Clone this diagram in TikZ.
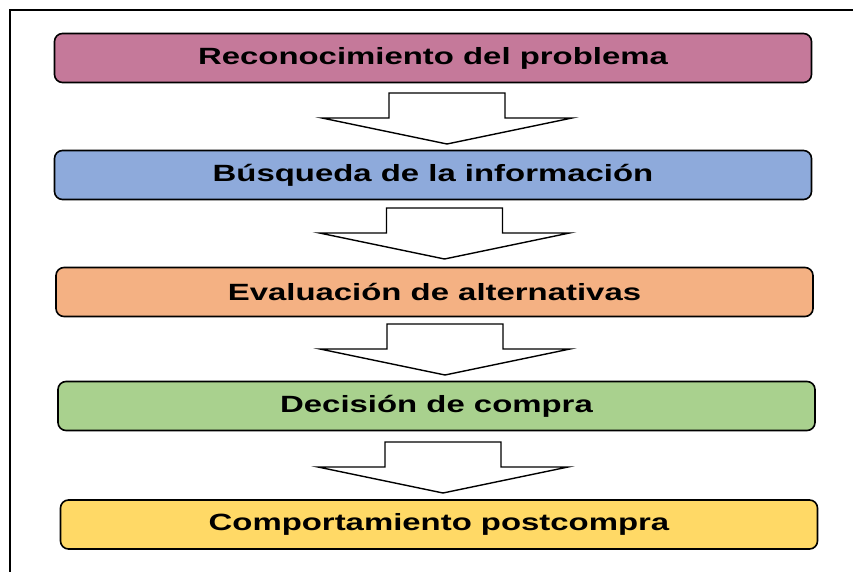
\documentclass[tikz,border=0pt]{standalone}
\usepackage{fontspec}
\newfontfamily\stagefont[FakeStretch=1.4]{Liberation Sans}
\usepackage{tikz}
\usetikzlibrary{positioning}
\usepackage{xcolor}

\definecolor{recoPink}{HTML}{C5799A}
\definecolor{busqBlue}{HTML}{8EAADB}
\definecolor{evalOrange}{HTML}{F4B183}
\definecolor{decGreen}{HTML}{A9D18E}
\definecolor{postYellow}{HTML}{FFD966}

\begin{document}
\begin{tikzpicture}[
    x=1pt, y=-1pt,
    stage/.style={draw, line width=1.6pt, rounded corners=8pt, minimum width=757pt, minimum height=49pt, inner sep=0pt, font=\stagefont\bfseries\fontsize{23.5}{28}\selectfont},
    blockarr/.style={draw, line width=1.4pt, fill=white, line join=miter},
]
\useasboundingbox (0,0) rectangle (853,572);

% frame
\draw[line width=1.3pt] (10,572) -- (10,10) -- (853,10);

% stages
\node[stage, fill=recoPink] (reco) at (433,58) {Reconocimiento del problema};
\node[stage, fill=busqBlue] (busq) at (433,175) {Búsqueda de la información};
\node[stage, fill=evalOrange] (eval) at (434.5,292) {Evaluación de alternativas};
\node[stage, fill=decGreen] (dec) at (436.5,406) {Decisión de compra};
\node[stage, fill=postYellow] (post) at (439,524.5) {Comportamiento postcompra};

% block arrows
\coordinate (a1) at (447,93);
\coordinate (a2) at (444.5,208);
\coordinate (a3) at (445,324);
\coordinate (a4) at (443,442);
\foreach \a in {a1,a2,a3,a4}
  \draw[blockarr] (\a) ++(-58,0) -- ++(116,0) -- ++(0,25) -- ++(67,0)
    -- ++(-125,26) -- ++(-125,-26) -- ++(67,0) -- cycle;
\end{tikzpicture}
\end{document}
